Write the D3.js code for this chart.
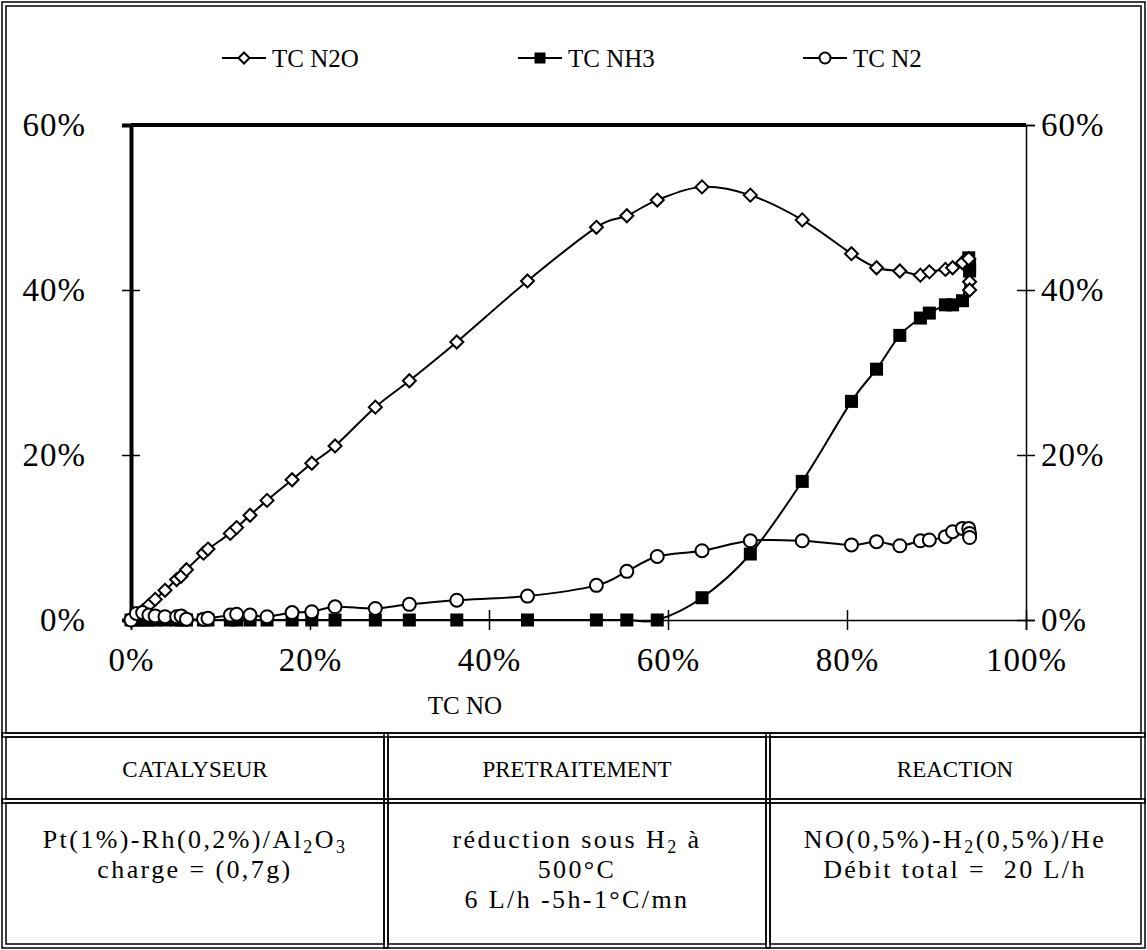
<!DOCTYPE html>
<html>
<head>
<meta charset="utf-8">
<script src="https://cdn.jsdelivr.net/npm/d3@7"></script>
<style>
  body { margin: 0; background: #fff; }
  svg text { font-family: "Liberation Serif", "DejaVu Serif", serif; fill: #000; }
</style>
</head>
<body>
<div class="chart"></div>
<script>
var svgWidth = 1147;
var svgHeight = 950;

// TC NO (x), shared by the three series, in %
var tcNO = [0, 0.6, 1.3, 2.0, 2.7, 3.8, 5.1, 5.6, 6.2, 8.1, 8.6, 11.1, 11.8, 13.3, 15.2, 18.0, 20.2, 22.8,
    27.3, 31.1, 36.4, 44.3, 52.0, 55.4, 58.8, 63.8, 69.2, 75.0, 80.5, 83.3, 85.9, 88.2, 89.2, 91.0,
    91.8, 92.9, 93.6, 93.7, 93.7];
var tcN2O = [0, 0.5, 1.1, 1.8, 2.5, 3.6, 4.9, 5.3, 6.1, 8.1, 8.6, 10.5, 11.2, 12.7, 14.5, 17.0, 19.0, 21.1,
    25.8, 29.0, 33.7, 41.1, 47.6, 49.0, 50.9, 52.5, 51.5, 48.5, 44.4, 42.7, 42.3, 41.8, 42.2, 42.5,
    42.7, 43.3, 43.8, 41.0, 40.0];
var tcNH3 = [0, 0, 0, 0, 0, 0, 0, 0, 0, 0, 0, 0, 0, 0, 0, 0, 0, 0,
    0, 0, 0, 0, 0, 0, 0, 2.7, 8.0, 16.8, 26.5, 30.4, 34.5, 36.6, 37.2, 38.2,
    38.2, 38.7, 43.9, 43.0, 42.3];
var tcN2 = [0, 0.8, 0.9, 0.6, 0.5, 0.4, 0.4, 0.5, 0.1, 0.1, 0.2, 0.6, 0.7, 0.6, 0.4, 0.9, 1.0, 1.6,
    1.4, 1.9, 2.4, 2.9, 4.2, 5.9, 7.7, 8.4, 9.6, 9.6, 9.1, 9.5, 9.0, 9.6, 9.7, 10.1,
    10.7, 11.1, 11.1, 10.5, 10.0];

var xTicks = [0, 0.2, 0.4, 0.6, 0.8, 1.0];
var yTicks = [0, 0.2, 0.4, 0.6];

var seriesNames = ["TC N2O", "TC NH3", "TC N2"];
var seriesValues = [tcN2O, tcNH3, tcN2];
var seriesMarkers = ["diamond", "square", "circle"];

var svg = d3.select(".chart")
    .append("svg")
    .attr("width", svgWidth)
    .attr("height", svgHeight);

var xScale = d3.scaleLinear().domain([0, 1]).range([131, 1026]);
var yScale = d3.scaleLinear().domain([0, 0.6]).range([620, 125]);

// double frame lines
function doubleRect(x, y, w, h) {
    svg.append("rect").attr("x", x).attr("y", y).attr("width", w).attr("height", h)
        .attr("fill", "none").attr("stroke", "#000").attr("stroke-width", 1.5);
    svg.append("rect").attr("x", x + 4).attr("y", y + 4).attr("width", w - 8).attr("height", h - 8)
        .attr("fill", "none").attr("stroke", "#000").attr("stroke-width", 1.5);
}
doubleRect(2, 2, 1143, 735);
doubleRect(2, 733, 386, 70);
doubleRect(384, 733, 386, 70);
doubleRect(766, 733, 379, 70);
doubleRect(2, 799, 386, 149);
doubleRect(384, 799, 386, 149);
doubleRect(766, 799, 379, 149);

// axes
var bottomAxis = d3.axisBottom(xScale).tickValues(xTicks).tickFormat(d3.format(".0%"))
    .tickSize(10).tickPadding(18);
var gx = svg.append("g").attr("transform", "translate(0,620)").call(bottomAxis);
gx.select(".domain").attr("stroke-width", 1.5);
gx.selectAll(".tick line").attr("y1", -10).attr("stroke-width", 1.5);
gx.selectAll(".tick text").attr("font-size", 33).attr("letter-spacing", 1)
    .attr("font-family", "Liberation Serif");

var leftAxis = d3.axisLeft(yScale).tickValues(yTicks).tickFormat(d3.format(".0%"))
    .tickSize(9).tickPadding(36);
var gy = svg.append("g").attr("transform", "translate(131,0)").call(leftAxis);
gy.select(".domain").attr("stroke-width", 4);
gy.selectAll(".tick line").attr("x1", 9).attr("stroke-width", 1.5);
gy.selectAll(".tick text").attr("font-size", 33).attr("letter-spacing", 1)
    .attr("font-family", "Liberation Serif");

var rightAxis = d3.axisRight(yScale).tickValues(yTicks).tickFormat(d3.format(".0%"))
    .tickSize(9).tickPadding(6);
var gr = svg.append("g").attr("transform", "translate(1026,0)").call(rightAxis);
gr.select(".domain").attr("stroke-width", 1.5);
gr.selectAll(".tick line").attr("x1", -9).attr("stroke-width", 1.5);
gr.selectAll(".tick text").attr("font-size", 33).attr("letter-spacing", 1)
    .attr("font-family", "Liberation Serif");

// thick top border of plot area
svg.append("line")
    .attr("x1", xScale(0)).attr("x2", xScale(1))
    .attr("y1", yScale(0.6)).attr("y2", yScale(0.6))
    .attr("stroke", "#000").attr("stroke-width", 4);

svg.append("text")
    .attr("x", 465).attr("y", 714)
    .attr("text-anchor", "middle")
    .attr("font-size", 25)
    .text("TC NO");

// markers
function drawMarker(g, type, cx, cy, s) {
    if (type === "diamond") {
        g.append("path")
            .attr("d", `M${cx},${cy - s}L${cx + s},${cy}L${cx},${cy + s}L${cx - s},${cy}Z`)
            .attr("fill", "#fff").attr("stroke", "#000").attr("stroke-width", 2);
    } else if (type === "square") {
        g.append("rect")
            .attr("x", cx - s).attr("y", cy - s).attr("width", 2 * s).attr("height", 2 * s)
            .attr("fill", "#000");
    } else {
        g.append("circle")
            .attr("cx", cx).attr("cy", cy).attr("r", s)
            .attr("fill", "#fff").attr("stroke", "#000").attr("stroke-width", 2);
    }
}

var markerSize = { diamond: 6.5, square: 6.5, circle: 6.5 };

var line = d3.line()
    .x(d => xScale(d[0] / 100))
    .y(d => yScale(d[1] / 100))
    .curve(d3.curveCatmullRom.alpha(0));

var plot = svg.append("g");
seriesValues.forEach(function(vals, i) {
    var pts = tcNO.map((x, j) => [x, vals[j]]);
    plot.append("path")
        .attr("d", line(pts))
        .attr("fill", "none")
        .attr("stroke", "#000")
        .attr("stroke-width", 2);
});
// squares first, then diamonds, circles on top
[1, 0, 2].forEach(function(i) {
    var g = plot.append("g");
    tcNO.forEach(function(x, j) {
        drawMarker(g, seriesMarkers[i], xScale(x / 100), yScale(seriesValues[i][j] / 100), markerSize[seriesMarkers[i]]);
    });
});

// legend
var legendX = [222, 518, 803];
seriesNames.forEach(function(name, i) {
    var g = svg.append("g");
    g.append("line")
        .attr("x1", legendX[i]).attr("x2", legendX[i] + 44)
        .attr("y1", 58).attr("y2", 58)
        .attr("stroke", "#000").attr("stroke-width", 2);
    drawMarker(g, seriesMarkers[i], legendX[i] + 22, 58, 5.5);
    g.append("text")
        .attr("x", legendX[i] + 50).attr("y", 67)
        .attr("font-size", 25)
        .text(name);
});

// table
var headers = ["CATALYSEUR", "PRETRAITEMENT", "REACTION"];
var colCenters = [195, 577, 955];
headers.forEach(function(h, i) {
    svg.append("text")
        .attr("x", colCenters[i]).attr("y", 777)
        .attr("text-anchor", "middle")
        .attr("font-size", 23)
        .text(h);
});

function cellText(x, y, parts) {
    var t = svg.append("text")
        .attr("x", x).attr("y", y)
        .attr("text-anchor", "middle")
        .attr("font-size", 26)
        .attr("letter-spacing", 2.4);
    var shift = 0;
    parts.forEach(function(p) {
        if (typeof p === "string") {
            t.append("tspan").attr("dy", -shift).text(p);
            shift = 0;
        } else {
            t.append("tspan").attr("font-size", 18).attr("dy", 5).text(p.sub);
            shift = 5;
        }
    });
}

cellText(195, 848, ["Pt(1%)-Rh(0,2%)/Al", {sub: "2"}, "O", {sub: "3"}]);
cellText(195, 878, ["charge = (0,7g)"]);
cellText(577, 848, ["réduction sous H", {sub: "2"}, " à"]);
cellText(577, 878, ["500°C"]);
cellText(577, 908, ["6 L/h -5h-1°C/mn"]);
cellText(955, 848, ["NO(0,5%)-H", {sub: "2"}, "(0,5%)/He"]);
cellText(955, 878, ["Débit total =\u00a0 20 L/h"]);
</script>
</body>
</html>
